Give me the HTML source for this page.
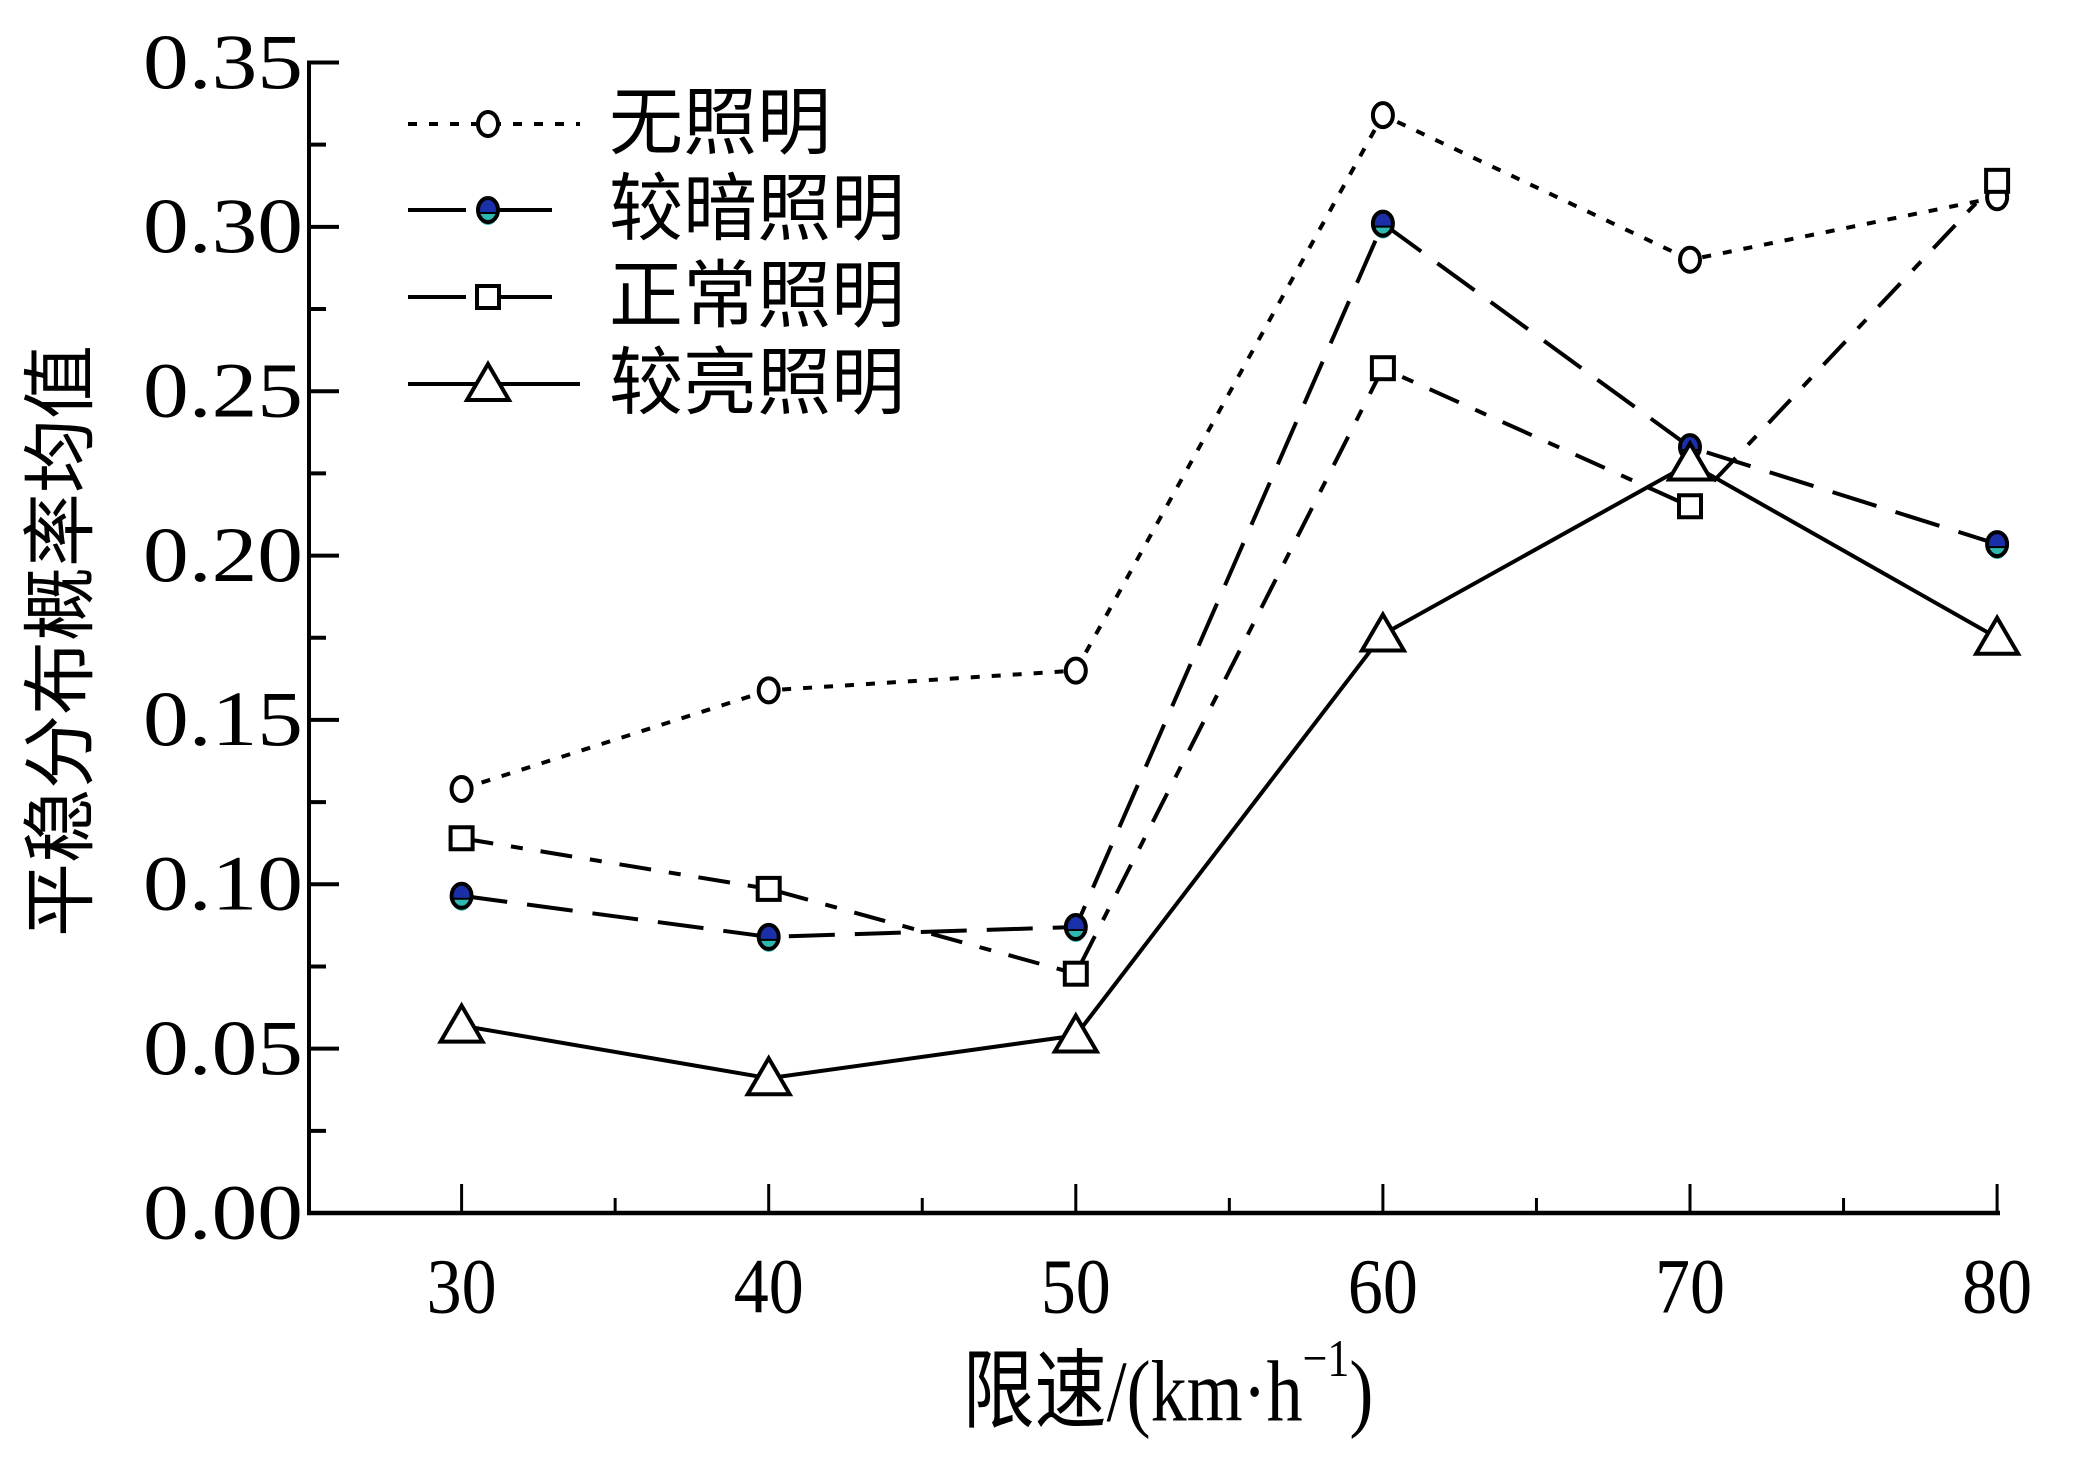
<!DOCTYPE html>
<html><head><meta charset="utf-8">
<style>
html,body{margin:0;padding:0;background:#fff;}
svg{display:block;}
text{font-family:"Liberation Serif","Noto Sans CJK SC",serif;fill:#000;}
</style></head>
<body>
<svg id="chart" width="2074" height="1471" viewBox="0 0 2074 1471">
<g id="axes"></g>
<g id="series"></g>
<g id="legend"></g>
<text x="62" y="641" font-size="74" text-anchor="middle" dominant-baseline="central" transform="rotate(-90 62 641)">平稳分布概率均值</text>
<text x="1168" y="1392" font-size="72" text-anchor="middle" dominant-baseline="central" transform="translate(0 -278) scale(1 1.2)">限速/(km·h<tspan dy="-28" font-size="44">−1</tspan><tspan dy="28">)</tspan></text>
</svg>
<script>
const categories = [30, 40, 50, 60, 70, 80];
const seriesNames = ["无照明", "较暗照明", "正常照明", "较亮照明"];
const noLight = [0.129, 0.159, 0.165, 0.334, 0.290, 0.309];
const dimLight = [0.0965, 0.084, 0.087, 0.301, 0.233, 0.2035];
const normalLight = [0.114, 0.0986, 0.0728, 0.257, 0.215, 0.314];
const brightLight = [0.057, 0.041, 0.054, 0.176, 0.228, 0.175];
const yTicks = [0, 0.05, 0.10, 0.15, 0.20, 0.25, 0.30, 0.35];
const yTickLabels = ["0.00","0.05","0.10","0.15","0.20","0.25","0.30","0.35"];
const xTickLabels = ["30","40","50","60","70","80"];

const NS = "http://www.w3.org/2000/svg";
const X0 = 309, Y0 = 1213, YTOP = 62.5;
function xScale(v){ return 461.6 + (v - 30) * 30.71; }
function yScale(v){ return Y0 - v / 0.35 * (Y0 - YTOP); }
function mk(tag, attrs, parent){
  const e = document.createElementNS(NS, tag);
  for (const k in attrs) e.setAttribute(k, attrs[k]);
  parent.appendChild(e); return e;
}
const axes = document.getElementById("axes");
let el;
el = mk("line",{x1:X0,y1:YTOP-2,x2:X0,y2:Y0,stroke:"#000","stroke-width":4},axes);


el = mk("line",{x1:X0-2,y1:Y0,x2:2000,y2:Y0,stroke:"#000","stroke-width":4.5},axes);


yTicks.forEach((t,i)=>{
  const y = yScale(t);
  const tk = mk("line",{x1:X0,y1:y,x2:X0+30,y2:y,stroke:"#000","stroke-width":4},axes);
  
  
  if (i < yTicks.length-1){
    const ym = yScale(t+0.025);
    const mt = mk("line",{x1:X0,y1:ym,x2:X0+17,y2:ym,stroke:"#000","stroke-width":4},axes);
    
    
  }
  const lb = mk("text",{x:0,y:0,"font-size":70,"dominant-baseline":"central",textLength:160,lengthAdjust:"spacingAndGlyphs",transform:`translate(143 ${y}) scale(1 1.12)`},axes);
  lb.textContent = yTickLabels[i];
  
  
});
categories.forEach((c,i)=>{
  const x = xScale(c);
  const tk = mk("line",{x1:x,y1:Y0,x2:x,y2:Y0-29,stroke:"#000","stroke-width":3},axes);
  
  
  if (i < categories.length-1){
    const xm = xScale(c+5);
    const mt = mk("line",{x1:xm,y1:Y0,x2:xm,y2:Y0-15,stroke:"#000","stroke-width":3},axes);
    
    
  }
  const lb = mk("text",{x:0,y:0,"font-size":70,"text-anchor":"middle","dominant-baseline":"central",transform:`translate(${x} 1287) scale(1 1.12)`},axes);
  lb.textContent = xTickLabels[i];
  
  
});

const styles = [
  {data:noLight, dash:"9 12", marker:"circle", name:"series-no-light"},
  {data:dimLight, dash:"46 20", marker:"dark", name:"series-dim-light"},
  {data:normalLight, dash:"32 18 12 18", marker:"square", name:"series-normal-light"},
  {data:brightLight, dash:"none", marker:"triangle", name:"series-bright-light"}
];
function drawMarker(type, x, y, g){
  let m;
  if (type==="circle"){
    m = mk("ellipse",{cx:x,cy:y,rx:10,ry:12,fill:"#fff",stroke:"#000","stroke-width":4},g);
  } else if (type==="dark"){
    m = mk("g",{},g);
    mk("ellipse",{cx:x,cy:y,rx:10,ry:12,fill:"#1a2fa8",stroke:"none"},m);
    mk("path",{d:`M${x-10},${y+3} L${x+10},${y+3} A10,12 0 0 1 ${x-10},${y+3}Z`,fill:"#2fb8b0"},m);
    mk("line",{x1:x-10,y1:y+3,x2:x+10,y2:y+3,stroke:"#000","stroke-width":2},m);
    mk("ellipse",{cx:x,cy:y,rx:10,ry:12,fill:"none",stroke:"#000","stroke-width":4},m);
  } else if (type==="square"){
    m = mk("rect",{x:x-11,y:y-11,width:22,height:22,fill:"#fff",stroke:"#000","stroke-width":4},g);
  } else {
    m = mk("polygon",{points:`${x},${y-20} ${x+21},${y+16} ${x-21},${y+16}`,fill:"#fff",stroke:"#000","stroke-width":4},g);
  }
  return m;
}
const sg = document.getElementById("series");
styles.forEach(s=>{
  const g = mk("g",{},sg);
  
  
  const pts = categories.map((c,i)=>xScale(c)+","+yScale(s.data[i])).join(" ");
  const pl = mk("polyline",{points:pts,fill:"none",stroke:"#000","stroke-width":4,"stroke-dasharray":s.dash},g);
  
  
  categories.forEach((c,i)=>{
    const m = drawMarker(s.marker, xScale(c), yScale(s.data[i]), g);
    
    
  });
});
const lg = document.getElementById("legend");
const legendY = [124, 210, 297, 384];
styles.forEach((s,i)=>{
  const g = mk("g",{},lg);
  
  
  const y = legendY[i];
  mk("line",{x1:408,y1:y,x2:580,y2:y,stroke:"#000","stroke-width":4,"stroke-dasharray":s.dash==="none"?"none":(i===0?"9 12":"58 28")},g);
  drawMarker(s.marker, 488, y, g);
  const t = mk("text",{x:609,y:y,"font-size":74,"dominant-baseline":"central"},g);
  t.textContent = seriesNames[i];
  
  
});
</script>
</body></html>
